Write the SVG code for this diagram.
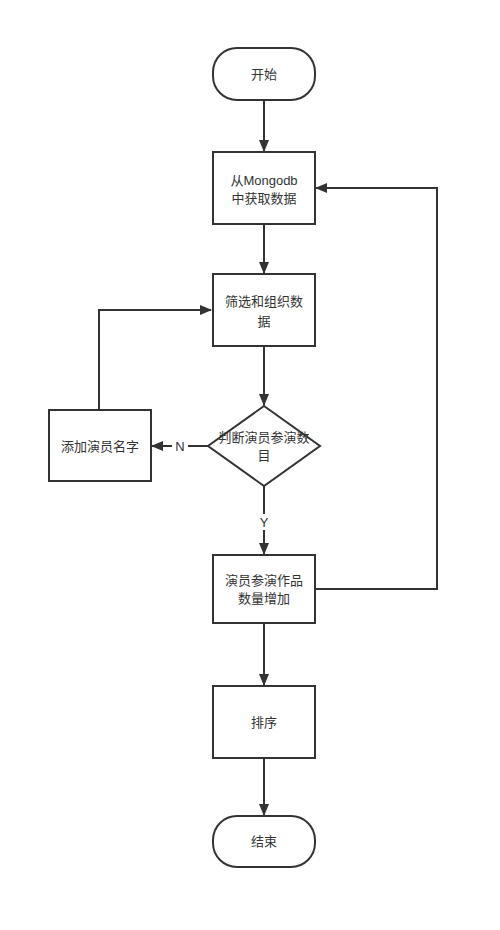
<svg xmlns="http://www.w3.org/2000/svg" width="500" height="930" viewBox="0 0 500 930">
<style>
.s{fill:#fff;stroke:#333;stroke-width:2}
.t{font-family:"Liberation Sans","Noto Sans CJK SC",sans-serif;font-size:13px;fill:#333;text-anchor:middle}
.c{fill:none;stroke:#333;stroke-width:2}
</style>
<defs>
<marker id="a" markerWidth="12" markerHeight="10" refX="11" refY="5" orient="auto" markerUnits="userSpaceOnUse">
<path d="M0,0 L12,5 L0,10 Z" fill="#333"/>
</marker>
</defs>
<rect width="500" height="930" fill="#fff"/>
<g id="connectors">
<path class="c" d="M264,100 V151" marker-end="url(#a)"/>
<path class="c" d="M264,224 V273" marker-end="url(#a)"/>
<path class="c" d="M264,346 V405" marker-end="url(#a)"/>
<path class="c" d="M208,446 H152" marker-end="url(#a)"/>
<path class="c" d="M99,410 V310 H211" marker-end="url(#a)"/>
<path class="c" d="M264,486 V554" marker-end="url(#a)"/>
<path class="c" d="M315,589 H437 V188 H316" marker-end="url(#a)"/>
<path class="c" d="M264,623 V685" marker-end="url(#a)"/>
<path class="c" d="M264,758 V815" marker-end="url(#a)"/>
<rect x="172" y="438" width="16" height="16" fill="#fff"/>
<text class="t" x="180" y="451">N</text>
<rect x="256" y="514" width="16" height="16" fill="#fff"/>
<text class="t" x="264" y="527">Y</text>
</g>
<g id="start"><rect class="s" x="213" y="48" width="102" height="52" rx="24"/><text class="t" x="264" y="79">开始</text></g>
<g id="fetch"><rect class="s" x="213" y="152" width="102" height="72"/><text class="t" x="264" y="185">从Mongodb</text><text class="t" x="264" y="203">中获取数据</text></g>
<g id="filter"><rect class="s" x="213" y="274" width="102" height="72"/><text class="t" x="264" y="306">筛选和组织数</text><text class="t" x="264" y="326">据</text></g>
<g id="judge"><path class="s" d="M264,406 L320,446 L264,486 L208,446 Z"/><text class="t" x="264" y="442">判断演员参演数</text><text class="t" x="264" y="460">目</text></g>
<g id="add"><rect class="s" x="49" y="410" width="102" height="71"/><text class="t" x="100" y="451">添加演员名字</text></g>
<g id="count"><rect class="s" x="213" y="555" width="102" height="68"/><text class="t" x="264" y="585">演员参演作品</text><text class="t" x="264" y="603">数量增加</text></g>
<g id="sort"><rect class="s" x="213" y="686" width="102" height="72"/><text class="t" x="264" y="727">排序</text></g>
<g id="end"><rect class="s" x="213" y="816" width="102" height="51" rx="24"/><text class="t" x="264" y="846">结束</text></g>
</svg>
